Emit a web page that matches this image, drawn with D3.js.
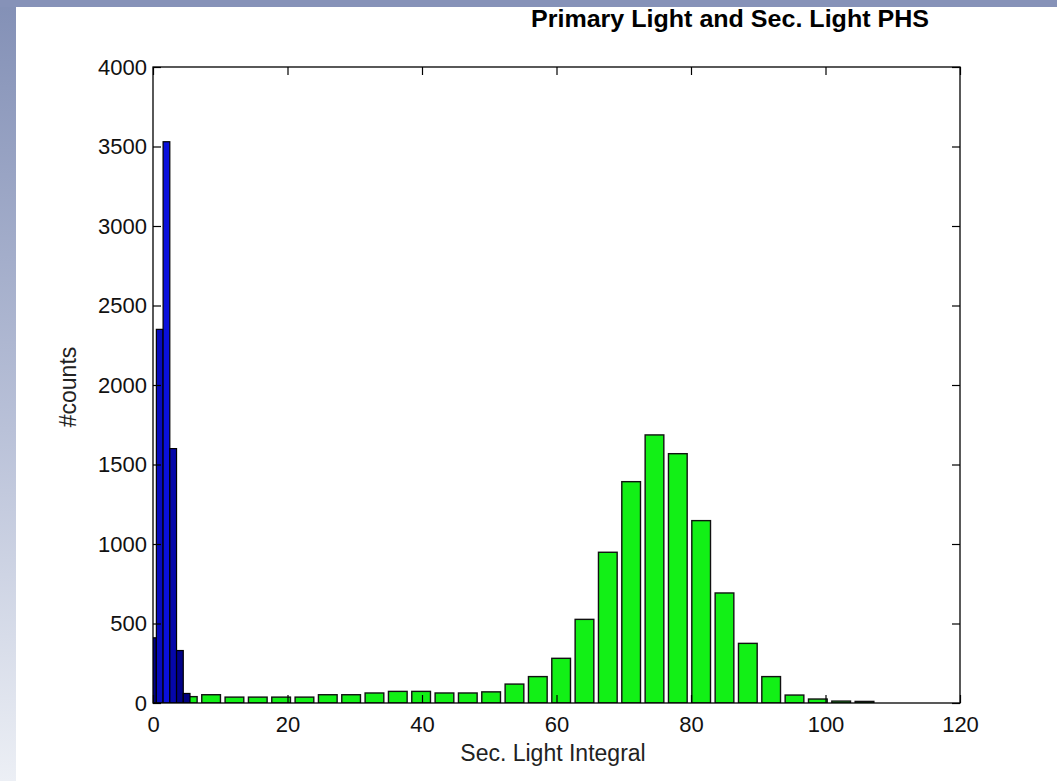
<!DOCTYPE html>
<html lang="en">
<head>
<meta charset="utf-8">
<script src="https://d3js.org/d3.v7.min.js"></script>
<style>
  html, body { margin: 0; padding: 0; background: #fff; }
  svg { display: block; font-family: "Liberation Sans", Arial, Helvetica, sans-serif; }
</style>
</head>
<body>
<div id="my_dataviz"></div>
<script>

    // primary light histogram (bins of width 1)
    var primaryCenters = [0, 1, 2, 3, 4, 5];
    var primaryCounts  = [410, 2350, 3530, 1600, 330, 60];

    // secondary light histogram
    var secondaryCenters = [1.70, 5.17, 8.64, 12.11, 15.58, 19.05, 22.52, 25.99, 29.46, 32.93,
                            36.40, 39.87, 43.34, 46.81, 50.28, 53.75, 57.22, 60.69, 64.16, 67.63,
                            71.10, 74.57, 78.04, 81.51, 84.98, 88.45, 91.92, 95.39, 98.86, 102.33, 105.80];
    var secondaryCounts  = [60, 40, 52, 37, 37, 37, 37, 52, 52, 63,
                            73, 73, 63, 63, 70, 119, 166, 281, 526, 948,
                            1392, 1686, 1568, 1147, 692, 375, 166, 50, 25, 12, 10];

    var xTicks = [0, 20, 40, 60, 80, 100, 120];
    var yTicks = [0, 500, 1000, 1500, 2000, 2500, 3000, 3500, 4000];

    var W = 1057, H = 781;
    var margin = {top: 67, right: 97, bottom: 78, left: 153},
        width = W - margin.left - margin.right,
        height = H - margin.top - margin.bottom;

    var svg0 = d3.select("#my_dataviz")
      .append("svg")
        .attr("width", W)
        .attr("height", H);

    // slide frame (blue band on top and left)
    var grad = svg0.append("defs").append("linearGradient")
        .attr("id", "band").attr("x1", 0).attr("y1", 0).attr("x2", 0).attr("y2", 1);
    grad.append("stop").attr("offset", "0%").attr("stop-color", "#8390b6");
    grad.append("stop").attr("offset", "55%").attr("stop-color", "#b9c1d8");
    grad.append("stop").attr("offset", "100%").attr("stop-color", "#eceff5");
    svg0.append("rect").attr("x", 0).attr("y", 0).attr("width", 16).attr("height", H).style("fill", "url(#band)");
    svg0.append("rect").attr("x", 0).attr("y", 0).attr("width", W).attr("height", 7).style("fill", "#8692b8");

    svg0.select("defs").append("clipPath").attr("id", "plotclip")
      .append("rect").attr("x", 0).attr("y", 0).attr("width", width).attr("height", height);

    var svg = svg0.append("g")
        .attr("transform", "translate(" + margin.left + "," + margin.top + ")");

    var x = d3.scaleLinear().domain([0, 120]).range([0, width]);
    var y = d3.scaleLinear().domain([0, 4000]).range([height, 0]);

    var secWidth = 2.78, primWidth = 1;

    var bars = svg.append("g").attr("clip-path", "url(#plotclip)");

    // green bars
    bars.selectAll(".sec")
      .data(secondaryCenters.map(function(c, i) { return {c: c, v: secondaryCounts[i]}; }))
      .enter().append("rect")
        .attr("class", "sec")
        .attr("x", function(d) { return x(d.c - secWidth / 2); })
        .attr("width", x(secWidth) - x(0))
        .attr("y", function(d) { return y(d.v); })
        .attr("height", function(d) { return y(0) - y(d.v); })
        .style("fill", "#12f016")
        .style("stroke", "#111")
        .style("stroke-width", 1.4);

    // blue bars on top
    var blue = d3.scaleLinear().domain([0, 3530]).range(["#00007e", "#0a10dc"]);
    bars.selectAll(".prim")
      .data(primaryCenters.map(function(c, i) { return {c: c, v: primaryCounts[i]}; }))
      .enter().append("rect")
        .attr("class", "prim")
        .attr("x", function(d) { return x(d.c - primWidth / 2); })
        .attr("width", x(primWidth) - x(0))
        .attr("y", function(d) { return y(d.v); })
        .attr("height", function(d) { return y(0) - y(d.v); })
        .style("fill", function(d) { return blue(d.v); })
        .style("stroke", "#000")
        .style("stroke-width", 1.2);

    // axes, ticks pointing inward
    var tl = 8;
    var fmt = d3.format("d");
    svg.append("g")
        .attr("transform", "translate(0," + height + ")")
        .call(d3.axisBottom(x).tickValues(xTicks).tickFormat(fmt).tickSizeInner(-tl).tickSizeOuter(0).tickPadding(13));
    svg.append("g")
        .call(d3.axisLeft(y).tickValues(yTicks).tickFormat(fmt).tickSizeInner(-tl).tickSizeOuter(0).tickPadding(6));
    svg.append("g")
        .call(d3.axisTop(x).tickValues(xTicks).tickSizeInner(-tl).tickSizeOuter(0).tickFormat(""));
    svg.append("g")
        .attr("transform", "translate(" + width + ",0)")
        .call(d3.axisRight(y).tickValues(yTicks).tickSizeInner(-tl).tickSizeOuter(0).tickFormat(""));

    svg.selectAll(".domain").remove();
    svg.selectAll(".tick line").attr("stroke", "#000").attr("stroke-width", 1.2);
    svg.selectAll(".tick text")
        .style("font-size", "22px")
        .style("font-family", "'Liberation Sans', Arial, sans-serif")
        .attr("fill", "#111");

    svg.append("rect")
        .attr("x", 0).attr("y", 0)
        .attr("width", width).attr("height", height)
        .style("fill", "none")
        .style("stroke", "#000")
        .style("stroke-width", 1.3);

    // labels
    svg0.append("text")
        .attr("x", 531)
        .attr("y", 27)
        .attr("textLength", 398)
        .attr("lengthAdjust", "spacingAndGlyphs")
        .style("font-size", "23px")
        .style("font-weight", "bold")
        .attr("fill", "#000")
        .text("Primary Light and Sec. Light PHS");

    svg0.append("text")
        .attr("text-anchor", "middle")
        .attr("x", 553)
        .attr("y", 761)
        .style("font-size", "23px")
        .attr("fill", "#222")
        .text("Sec. Light Integral");

    svg0.append("text")
        .attr("text-anchor", "middle")
        .attr("transform", "translate(76,387) rotate(-90)")
        .style("font-size", "23px")
        .attr("fill", "#222")
        .text("#counts");

</script>
</body>
</html>
